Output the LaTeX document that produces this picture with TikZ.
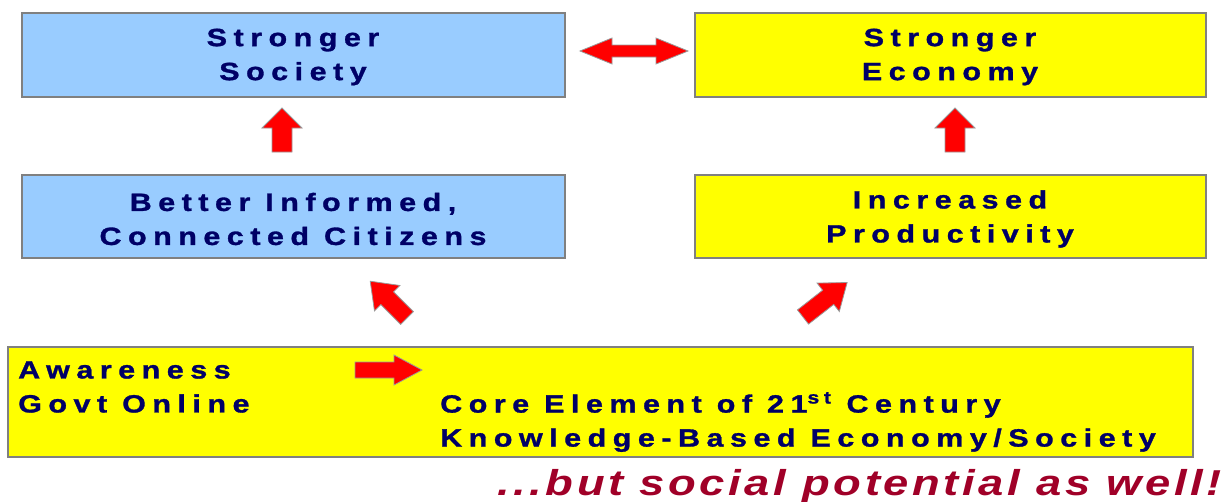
\documentclass[tikz,border=0pt]{standalone}
\usepackage{fontspec}
\newfontfamily\boxfont[LetterSpace=26,FakeStretch=1.22,FakeBold=1.2]{Liberation Sans}
\newfontfamily\tagfont[LetterSpace=10,FakeStretch=1.26]{Liberation Sans}
\definecolor{boxblue}{HTML}{99CCFF}
\definecolor{boxyellow}{HTML}{FFFF00}
\definecolor{boxedge}{HTML}{808080}
\definecolor{navytext}{HTML}{000066}
\definecolor{tagred}{HTML}{A00028}
\definecolor{arrowred}{HTML}{FF0000}
\tikzset{
  panel/.style={draw=boxedge, line width=1.5pt},
  bluepanel/.style={panel, fill=boxblue},
  yellowpanel/.style={panel, fill=boxyellow},
  label/.style={text=navytext, font=\boxfont\bfseries\fontsize{25}{34}\selectfont, inner sep=0pt, align=center},
  leftlabel/.style={label, align=left, anchor=west},
  arrowfill/.style={fill=arrowred, draw=boxedge!80, line width=0.8pt, line join=miter},
  pics/barrow/.style args={#1/#2/#3/#4}{code={
    % length / shaft half width / head half width / head length
    \path[arrowfill] (0,-#2) -- ({#1-#4},-#2) -- ({#1-#4},-#3) -- (#1,0)
      -- ({#1-#4},#3) -- ({#1-#4},#2) -- (0,#2) -- cycle;
  }},
  pics/dblarrow/.style args={#1/#2/#3/#4}{code={
    \path[arrowfill] (0,0) -- (#4,-#3) -- (#4,-#2) -- ({#1-#4},-#2) -- ({#1-#4},-#3)
      -- (#1,0) -- ({#1-#4},#3) -- ({#1-#4},#2) -- (#4,#2) -- (#4,#3) -- cycle;
  }}
}
\begin{document}
\begin{tikzpicture}[x=1pt,y=-1pt]
\useasboundingbox (0,0) rectangle (1232,501);
\clip (0,0) rectangle (1232,501);
\fill[white] (0,0) rectangle (1232,501);

% boxes
\draw[bluepanel] (22,13) rectangle (565,97);
\draw[yellowpanel] (695,13) rectangle (1206,97);
\draw[bluepanel] (22,175) rectangle (565,258);
\draw[yellowpanel] (695,175) rectangle (1206,258);
\draw[yellowpanel] (8,347) rectangle (1193,457);

% labels
\node[label] (society) at (293,57) {Stronger\\Society};
\node[label] (economy) at (950,57) {Stronger\\Economy};
\node[label] (citizens) at (293,219) {Better Informed,\\Connected Citizens};
\node[label] (productivity) at (950,219) {Increased\\Productivity};
\node[leftlabel] (awareness) at (18,387) {Awareness\\Govt Online};
\node[leftlabel] (core) at (440,422) {Core Element of 21\textsuperscript{st} Century\\Knowledge-Based Economy/Society};
\node[text=tagred, font=\tagfont\bfseries\itshape\fontsize{36}{42}\selectfont, anchor=base west, inner sep=0pt] (tag) at (497,495) {...but social potential as well!};

% arrows
\pic[shift={(580,51)}] {dblarrow=108/6/13/32};
\pic[shift={(282,152)}, rotate=90] {barrow=44/10/20/20};
\pic[shift={(955,152)}, rotate=90] {barrow=44/10/20/20};
\pic[shift={(407,318)}, rotate=135] {barrow=52/9/18/24};
\pic[shift={(803,317)}, rotate=38] {barrow=56/9/18/24};
\pic[shift={(355,370)}] {barrow=67/8/15/28};
\end{tikzpicture}
\end{document}
